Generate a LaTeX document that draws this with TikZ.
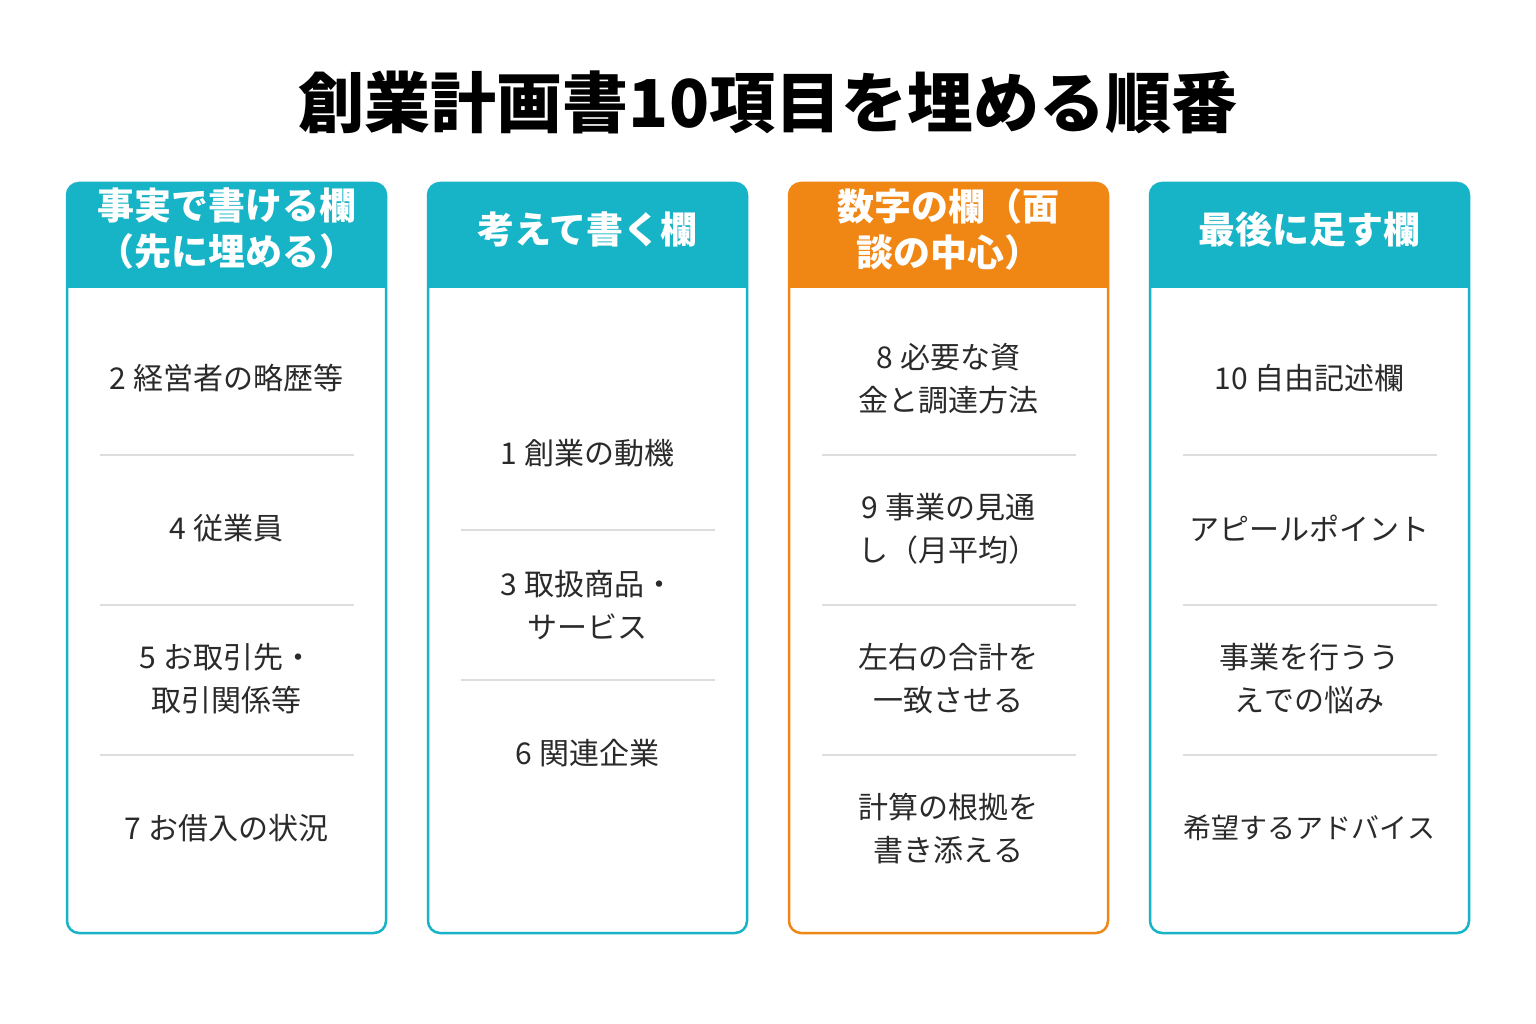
\documentclass[tikz,border=0pt]{standalone}
\usepackage{fontspec}
\setmainfont{Noto Sans CJK JP}
\usetikzlibrary{positioning}
\definecolor{teal}{HTML}{17B3C6}
\definecolor{orng}{HTML}{F08614}
\definecolor{ink}{HTML}{2A2A2A}
\definecolor{sep}{HTML}{DDDDDD}
\tikzset{
  item/.style={align=center,text=ink,font=\fontsize{30}{43}\selectfont},
  head/.style={align=center,text=white,font=\bfseries\fontsize{37}{46}\selectfont},
  box/.style={draw=#1,line width=2.5pt,rounded corners=12pt},
  rule/.style={draw=sep,line width=1.2pt}
}
\begin{document}
\begin{tikzpicture}[x=1pt,y=-1pt]
\useasboundingbox[fill=white] (0,0) rectangle (1536,1024);
\node (title) [text=black,font=\bfseries\fontsize{66}{70}\selectfont] at (768,102) {創業計画書10項目を埋める順番};
% column boxes
\begin{scope}\clip[rounded corners=12pt] (67,183) rectangle (386,933);
\fill[teal] (67,183) rectangle (386,288);\end{scope}
\draw[box=teal] (67,183) rectangle (386,933);
\begin{scope}\clip[rounded corners=12pt] (428,183) rectangle (747,933);
\fill[teal] (428,183) rectangle (747,288);\end{scope}
\draw[box=teal] (428,183) rectangle (747,933);
\begin{scope}\clip[rounded corners=12pt] (789,183) rectangle (1108,933);
\fill[orng] (789,183) rectangle (1108,288);\end{scope}
\draw[box=orng] (789,183) rectangle (1108,933);
\begin{scope}\clip[rounded corners=12pt] (1150,183) rectangle (1469,933);
\fill[teal] (1150,183) rectangle (1469,288);\end{scope}
\draw[box=teal] (1150,183) rectangle (1469,933);
% headers
\node (h1) [head] at (226.5,229) {事実で書ける欄\\（先に埋める）};
\node (h2) [head] at (587.5,229) {考えて書く欄};
\node (h3) [head] at (948.5,229) {数字の欄（面\\談の中心）};
\node (h4) [head] at (1309.5,229) {最後に足す欄};
% column 1
\node (c1a) [item] at (226.5,378) {2 経営者の略歴等};
\node (c1b) [item] at (226.5,528) {4 従業員};
\node (c1c) [item] at (226.5,679) {5 お取引先・\\取引関係等};
\node (c1d) [item] at (226.5,828) {7 お借入の状況};
\draw[rule] (100,455) -- (354,455);
\draw[rule] (100,605) -- (354,605);
\draw[rule] (100,755) -- (354,755);
% column 2
\node (c2a) [item] at (587.5,453) {1 創業の動機};
\node (c2b) [item] at (587.5,605) {3 取扱商品・\\サービス};
\node (c2c) [item] at (587.5,753) {6 関連企業};
\draw[rule] (461,530) -- (715,530);
\draw[rule] (461,680) -- (715,680);
% column 3
\node (c3a) [item] at (948.5,379) {8 必要な資\\金と調達方法};
\node (c3b) [item] at (948.5,529) {9 事業の見通\\し（月平均）};
\node (c3c) [item] at (948.5,679) {左右の合計を\\一致させる};
\node (c3d) [item] at (948.5,829) {計算の根拠を\\書き添える};
\draw[rule] (822,455) -- (1076,455);
\draw[rule] (822,605) -- (1076,605);
\draw[rule] (822,755) -- (1076,755);
% column 4
\node (c4a) [item] at (1309.5,378) {10 自由記述欄};
\node (c4b) [item] at (1309.5,528) {アピールポイント};
\node (c4c) [item] at (1309.5,679) {事業を行うう\\えでの悩み};
\node (c4d) [item,font=\fontsize{28}{40}\selectfont] at (1309.5,828) {希望するアドバイス};
\draw[rule] (1183,455) -- (1437,455);
\draw[rule] (1183,605) -- (1437,605);
\draw[rule] (1183,755) -- (1437,755);
\end{tikzpicture}
\end{document}
